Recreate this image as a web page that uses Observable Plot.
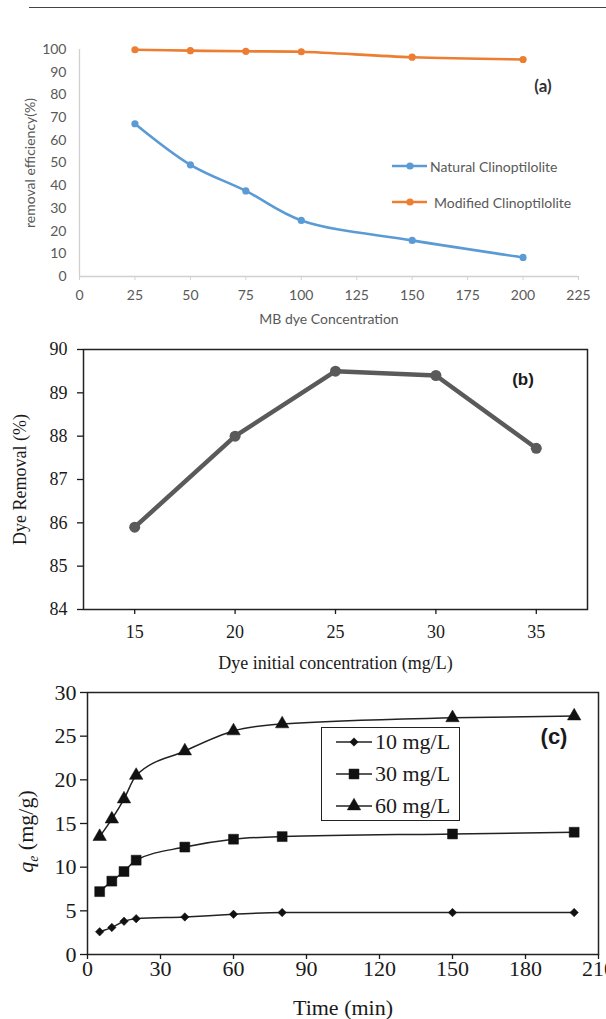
<!DOCTYPE html>
<html><head><meta charset="utf-8">
<script src="https://cdn.jsdelivr.net/npm/d3@7"></script>
<script src="https://cdn.jsdelivr.net/npm/@observablehq/plot@0.6"></script>
<style>
html,body{margin:0;padding:0;background:#fff;}
#page{position:relative;width:606px;height:1019px;overflow:hidden;background:#fff;}
.panel{position:absolute;left:0;width:606px;overflow:hidden;}
.panel svg{display:block;}
.ovl{position:absolute;white-space:nowrap;line-height:1;}
</style></head><body>
<div id="page">
  <div style="position:absolute;left:29px;top:7px;width:577px;height:0;border-top:1px solid #444;"></div>
  <div id="pa" class="panel" style="top:0;height:335px"></div>
  <div id="pb" class="panel" style="top:335px;height:345px"></div>
  <div id="pc" class="panel" style="top:670px;height:349px"></div>
</div>
<script>
// ---------- Panel (a) data ----------
const concA = [25, 50, 75, 100, 150, 200];
const naturalA = [67.3, 49.2, 37.7, 24.7, 15.9, 8.4];
const modifiedA = [99.9, 99.5, 99.2, 99.0, 96.6, 95.6];
const seriesA = ["Natural Clinoptilolite", "Modified Clinoptilolite"];
const ticksAx = [0, 25, 50, 75, 100, 125, 150, 175, 200, 225];
const ticksAy = [0, 10, 20, 30, 40, 50, 60, 70, 80, 90, 100];

// ---------- Panel (b) data ----------
const concB = [15, 20, 25, 30, 35];
const removalB = [85.9, 88.0, 89.5, 89.4, 87.72];
const ticksBx = [15, 20, 25, 30, 35];
const ticksBy = [84, 85, 86, 87, 88, 89, 90];

// ---------- Panel (c) data ----------
const timeC = [5, 10, 15, 20, 40, 60, 80, 150, 200];
const q10 = [2.6, 3.1, 3.8, 4.1, 4.3, 4.6, 4.8, 4.8, 4.8];
const q30 = [7.2, 8.4, 9.5, 10.8, 12.3, 13.2, 13.5, 13.8, 14.0];
const q60 = [13.5, 15.5, 17.8, 20.5, 23.3, 25.6, 26.4, 27.1, 27.3];
const seriesC = ["10 mg/L", "30 mg/L", "60 mg/L"];
const ticksCx = [0, 30, 60, 90, 120, 150, 180, 210];
const ticksCy = [0, 5, 10, 15, 20, 25, 30];

const intFmt = d => String(d);

// ---------- Panel (a) ----------
const rowsA = concA.flatMap((c, i) => [
  {c, v: naturalA[i], s: seriesA[0]},
  {c, v: modifiedA[i], s: seriesA[1]}
]);
const plotA = Plot.plot({
  width: 606, height: 335,
  marginLeft: 79, marginRight: 28, marginTop: 49, marginBottom: 59,
  style: {fontFamily: "Lato, sans-serif", fontSize: "14px", color: "#595959", background: "transparent"},
  x: {domain: [ticksAx[0], ticksAx[ticksAx.length - 1]]},
  y: {domain: [ticksAy[0], ticksAy[ticksAy.length - 1]]},
  color: {domain: seriesA, range: ["#5b9bd5", "#ed7d31"]},
  marks: [
    Plot.ruleY([ticksAy[0]], {stroke: "#d0d0d0", strokeWidth: 1.3}),
    Plot.ruleX([ticksAx[0]], {stroke: "#d0d0d0", strokeWidth: 1.3}),
    Plot.axisX({ticks: ticksAx, tickFormat: intFmt, tickSize: 4, tickPadding: 10, stroke: "#d0d0d0", fill: "#595959",
      label: "MB dye Concentration", labelAnchor: "center", labelArrow: "none", labelOffset: 47}),
    Plot.axisY({ticks: ticksAy, tickFormat: intFmt, tickSize: 0, tickPadding: 13, fill: "#595959",
      label: "removal efficiency(%)", labelAnchor: "center", labelArrow: "none", labelOffset: 54}),
    Plot.line(rowsA, {x: "c", y: "v", stroke: "s", strokeWidth: 2.6, curve: "catmull-rom"}),
    Plot.dot(rowsA, {x: "c", y: "v", fill: "s", r: 3.6})
  ]
});
document.getElementById("pa").appendChild(plotA);

// ---------- Panel (b) ----------
const rowsB = concB.map((c, i) => ({c, v: removalB[i]}));
const plotB = Plot.plot({
  width: 606, height: 345,
  marginLeft: 83, marginRight: 19, marginTop: 14, marginBottom: 71,
  style: {fontFamily: "'Liberation Serif', 'Times New Roman', serif", fontSize: "18px", color: "#1a1a1a", background: "transparent"},
  x: {domain: [12.45, 37.55]},
  y: {domain: [ticksBy[0], ticksBy[ticksBy.length - 1]]},
  marks: [
    Plot.frame({stroke: "#222", strokeWidth: 1.5}),
    Plot.axisX({ticks: ticksBx, tickFormat: intFmt, tickSize: 5, tickPadding: 11, strokeWidth: 1.3,
      label: "Dye initial concentration (mg/L)", labelAnchor: "center", labelArrow: "none", labelOffset: 59}),
    Plot.axisY({ticks: ticksBy, tickFormat: intFmt, tickSize: 6, tickPadding: 10, strokeWidth: 1.3,
      label: "Dye Removal (%)", labelAnchor: "center", labelArrow: "none", labelOffset: 70}),
    Plot.line(rowsB, {x: "c", y: "v", stroke: "#5a5a5a", strokeWidth: 4.5}),
    Plot.dot(rowsB, {x: "c", y: "v", fill: "#5a5a5a", r: 5.5})
  ]
});
document.getElementById("pb").appendChild(plotB);

// ---------- Panel (c) ----------
const rowsC = [q10, q30, q60].flatMap((arr, k) => timeC.map((t, i) => ({t, q: arr[i], s: seriesC[k]})));
const labelC = "q\u2091 (mg/g)";
const plotC = Plot.plot({
  width: 606, height: 349,
  marginLeft: 87, marginRight: 8, marginTop: 22, marginBottom: 65,
  style: {fontFamily: "'Liberation Serif', 'Times New Roman', serif", fontSize: "22px", color: "#1a1a1a", background: "transparent", overflow: "hidden"},
  x: {domain: [ticksCx[0], ticksCx[ticksCx.length - 1]]},
  y: {domain: [ticksCy[0], ticksCy[ticksCy.length - 1]]},
  symbol: {domain: seriesC, range: ["diamond2", "square", "triangle"]},
  marks: [
    Plot.frame({stroke: "#222", strokeWidth: 1.5}),
    Plot.axisX({ticks: ticksCx, tickFormat: intFmt, tickSize: 5, tickPadding: 1, strokeWidth: 1.3,
      label: "Time (min)", labelAnchor: "center", labelArrow: "none", labelOffset: 60}),
    Plot.axisY({ticks: ticksCy, tickFormat: intFmt, tickSize: 7, tickPadding: 4, strokeWidth: 1.3,
      label: labelC, labelAnchor: "center", labelArrow: "none", labelOffset: 70}),
    Plot.line(rowsC, {x: "t", y: "q", z: "s", stroke: "#222", strokeWidth: 1.5, curve: "monotone-x"}),
    Plot.dot(rowsC.filter(d => d.s === seriesC[0]), {x: "t", y: "q", symbol: "s", fill: "#111", stroke: "#111", strokeWidth: 0.5, r: 3.8}),
    Plot.dot(rowsC.filter(d => d.s === seriesC[1]), {x: "t", y: "q", symbol: "s", fill: "#111", stroke: "#111", strokeWidth: 0.5, r: 5.6}),
    Plot.dot(rowsC.filter(d => d.s === seriesC[2]), {x: "t", y: "q", symbol: "s", fill: "#111", stroke: "#111", strokeWidth: 0.5, r: 5.0})
  ]
});
document.getElementById("pc").appendChild(plotC);
// italic q with subscript e in the y label
d3.select(plotC).selectAll("text").filter(function () { return this.textContent.indexOf("(mg/g)") >= 0; }).each(function () {
  const t = d3.select(this);
  t.text(null);
  t.attr("x", -8);
  t.append("tspan").attr("font-style", "italic").text("q");
  t.append("tspan").attr("font-style", "italic").attr("font-size", "0.62em").attr("dy", "0.35em").text("e");
  t.append("tspan").attr("dy", "-0.22em").text(" (mg/g)");
});

// ---------- overlays: panel tags and legends ----------
const page = document.getElementById("page");
function tag(txt, x, y, css) {
  const d = document.createElement("div");
  d.className = "ovl";
  d.textContent = txt;
  d.style.cssText += `left:${x}px;top:${y}px;transform:translate(-50%,-50%);` + css;
  page.appendChild(d);
  return d;
}
tag("(a)", 543, 85, "font:bold 17px Lato,sans-serif;color:#333;");
tag("(b)", 523, 380, "font:bold 17px 'Liberation Sans',Arial,sans-serif;color:#1a1a1a;");
tag("(c)", 554, 737, "font:bold 22px 'Liberation Sans',Arial,sans-serif;color:#1a1a1a;");

// legend (a)
const legA = [
  {label: seriesA[0], color: "#5b9bd5", y: 166, tx: 430},
  {label: seriesA[1], color: "#ed7d31", y: 202, tx: 434}
];
legA.forEach(L => {
  const s = d3.select(page).append("svg").style("position", "absolute")
    .style("left", "390px").style("top", (L.y - 6) + "px").attr("width", 40).attr("height", 12);
  s.append("line").attr("x1", 2).attr("x2", 37).attr("y1", 6).attr("y2", 6).attr("stroke", L.color).attr("stroke-width", 2.6);
  s.append("circle").attr("cx", 20).attr("cy", 6).attr("r", 3.6).attr("fill", L.color);
  const d = document.createElement("div");
  d.className = "ovl";
  d.textContent = L.label;
  d.style.cssText += `left:${L.tx}px;top:${L.y}px;transform:translateY(-50%);font:14px Lato,sans-serif;color:#595959;`;
  page.appendChild(d);
});

// legend (c)
const box = document.createElement("div");
box.style.cssText = "position:absolute;left:321px;top:727px;width:137px;height:92px;border:1.5px solid #222;background:#fff;";
page.appendChild(box);
const symC = [d3.symbolDiamond2, d3.symbolSquare, d3.symbolTriangle];
const rC = [3.8, 5.6, 5.0];
const rowYC = [742, 774, 806];
seriesC.forEach((lab, k) => {
  const s = d3.select(page).append("svg").style("position", "absolute")
    .style("left", "334px").style("top", (rowYC[k] - 8) + "px").attr("width", 40).attr("height", 16);
  s.append("line").attr("x1", 2).attr("x2", 38).attr("y1", 8).attr("y2", 8).attr("stroke", "#222").attr("stroke-width", 1.5);
  s.append("path").attr("transform", "translate(20,8)")
    .attr("d", d3.symbol(symC[k], Math.PI * rC[k] * rC[k])())
    .attr("fill", "#111").attr("stroke", "#111").attr("stroke-width", 0.5);
  const d = document.createElement("div");
  d.className = "ovl";
  d.textContent = lab;
  d.style.cssText += `left:375px;top:${rowYC[k]}px;transform:translateY(-50%);font:22px 'Liberation Serif','Times New Roman',serif;color:#1a1a1a;`;
  page.appendChild(d);
});
</script>
</body></html>
